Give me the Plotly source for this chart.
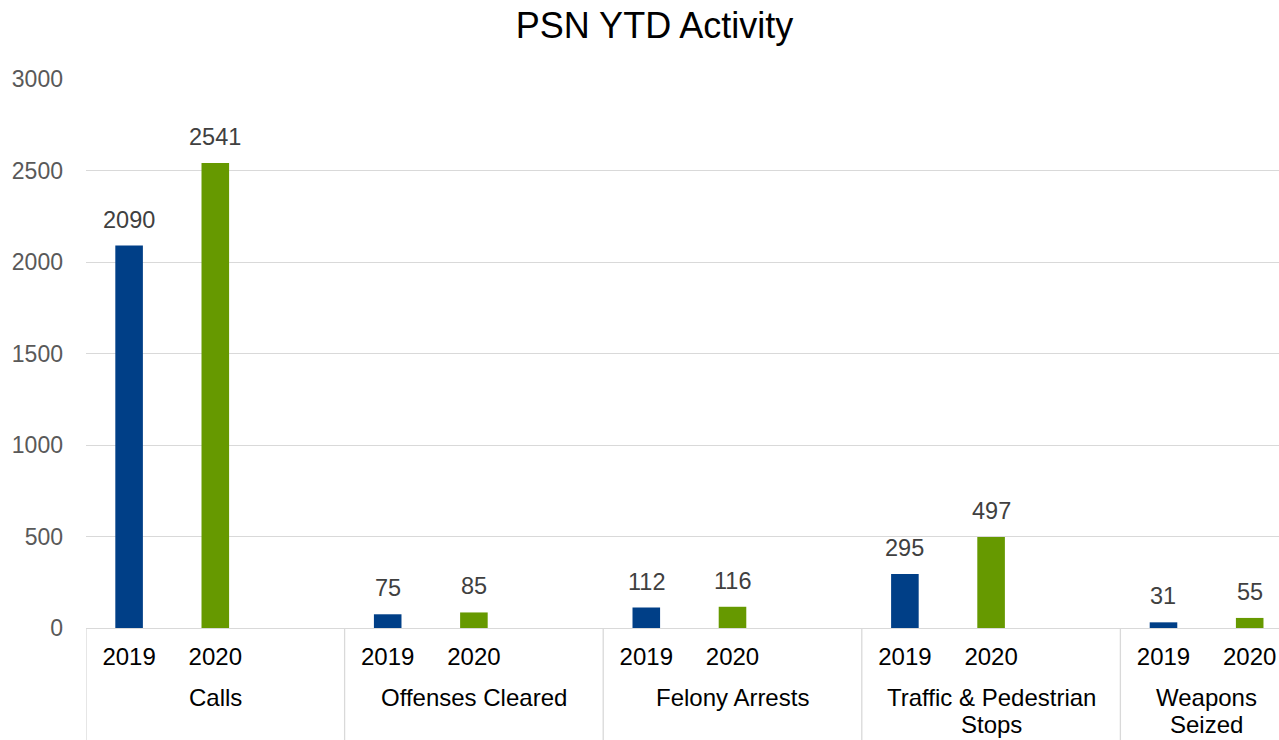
import plotly.graph_objects as go

groups = ["Calls", "Offenses Cleared", "Felony Arrests", "Traffic & Pedestrian<br>Stops", "Weapons<br>Seized"]
years = ["2019", "2020"]
v2019 = [2090, 75, 112, 295, 31]
v2020 = [2541, 85, 116, 497, 55]
colors = {"2019": "#003F87", "2020": "#669900"}

FONT = "Liberation Sans, Arial, sans-serif"

# slot layout: each group gets its two year slots plus one blank slot (except last)
xpos, ticktext, yv, cols = [], [], [], []
group_centers, group_bounds = [], []
idx = 0
for i, g in enumerate(groups):
    start = idx
    group_bounds.append(start - 0.5)
    for yr, vals in zip(years, [v2019, v2020]):
        xpos.append(idx); ticktext.append(yr); yv.append(vals[i]); cols.append(colors[yr])
        idx += 1
    if i < len(groups) - 1:
        idx += 1
    group_centers.append((start + idx - 1) / 2)

fig = go.Figure()
fig.add_trace(go.Bar(x=xpos, y=yv, marker=dict(color=cols, line=dict(width=0)),
                     width=0.32, hoverinfo="skip"))

for x, val in zip(xpos, yv):
    fig.add_annotation(x=x, y=val, text=str(val), showarrow=False, yanchor="bottom", yshift=11,
                       font=dict(family=FONT, size=23.5, color="#404040"))

LINE_GAP = 27
for c, g in zip(group_centers, groups):
    for k, line in enumerate(g.split("<br>")):
        fig.add_annotation(x=c, xref="x", y=0, yref="paper", text=line, showarrow=False,
                           yanchor="top", yshift=-54 - k * LINE_GAP, align="center",
                           font=dict(family=FONT, size=24, color="#000000"))

for b in group_bounds:
    fig.add_shape(type="line", xref="x", yref="paper", x0=b, x1=b, y0=0, y1=-0.21,
                  line=dict(color="#d9d9d9", width=1.3), layer="below")

fig.update_layout(
    width=1279, height=740,
    margin=dict(l=86, r=0, t=79, b=112),
    paper_bgcolor="white", plot_bgcolor="white",
    showlegend=False,
    font=dict(family=FONT, size=23, color="#000000"),
    title=dict(text="PSN YTD Activity", x=0.5117, xref="container", xanchor="center",
               y=1 - 25 / 740, yref="container", yanchor="middle",
               font=dict(size=36, color="#000000")),
)
fig.update_yaxes(range=[0, 3000], dtick=500, gridcolor="#d9d9d9", gridwidth=1.3,
                 showline=False, zeroline=False, ticks="", ticklabelstandoff=22,
                 tickfont=dict(size=23, color="#595959"))
fig.update_xaxes(range=[-0.5, 13.34], tickmode="array", tickvals=xpos, ticktext=ticktext,
                 showline=True, linecolor="#d9d9d9", linewidth=1.3, ticks="",
                 ticklabelstandoff=7, showgrid=False, zeroline=False,
                 tickfont=dict(size=24, color="#000000"))

fig.write_html("out.html", config={"displayModeBar": False},
               post_script="document.body.style.margin='0px';")
